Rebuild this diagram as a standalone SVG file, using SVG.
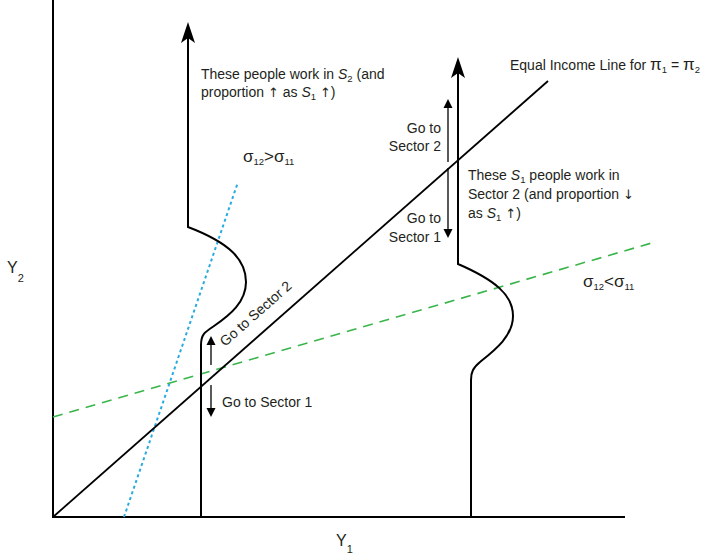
<svg xmlns="http://www.w3.org/2000/svg" width="709" height="555" viewBox="0 0 709 555">
<style>
text{font-family:"Liberation Sans","DejaVu Sans",sans-serif;font-size:14px;fill:#231f20}
.ax{stroke:#000;stroke-width:2;fill:none}
.ln{stroke:#000;stroke-width:1.8;fill:none}
.sa{stroke:#000;stroke-width:1.3;fill:none}
.sub{font-size:9.5px}
.sig{font-size:17px}
.arr{font-family:"DejaVu Sans",sans-serif;font-size:13px}
.blue{stroke:#29abe2;stroke-width:2;stroke-dasharray:3 3;fill:none}
.green{stroke:#39b54a;stroke-width:1.6;stroke-dasharray:10 7;fill:none}
</style>
<defs>
<marker id="big" markerUnits="userSpaceOnUse" viewBox="-24 -9 26 18" markerWidth="26" markerHeight="18" refX="-8" refY="0" orient="auto-start-reverse">
<path d="M0,0 L-21,-7 L-16,0 L-21,7 Z" fill="#000"/>
</marker>
<marker id="sm" markerUnits="userSpaceOnUse" viewBox="-11 -6 12 12" markerWidth="12" markerHeight="12" refX="-6" refY="0" orient="auto-start-reverse">
<path d="M0,0 L-9,-4.5 L-9,4.5 Z" fill="#000"/>
</marker>
</defs>
<g id="axes">
<path class="ax" d="M53,0 V517 H625"/>
<text x="7" y="273" style="font-size:16px">Y<tspan style="font-size:11px" dy="9">2</tspan></text>
<text x="336" y="546" style="font-size:16px">Y<tspan style="font-size:11px" dy="7">1</tspan></text>
</g>
<g id="connectors">
<path class="blue" d="M124,517 L238,182"/>
<path class="green" d="M53,417 L655,242"/>
<path class="ln" d="M53,517 L548,81"/>
<path class="sa" d="M211,342 V365" marker-start="url(#sm)"/>
<path class="sa" d="M211,385 V411" marker-end="url(#sm)"/>
<path class="sa" d="M448,105 V162" marker-start="url(#sm)"/>
<path class="sa" d="M448,168 V232" marker-end="url(#sm)"/>
</g>
<g id="left-curve">
<path class="ax" d="M188,30 V227 C230,243 246,260 246,282 C246,302 230,315 214,326 C205,332 201,334 201,345 V517" marker-start="url(#big)"/>
<text x="201" y="79">These people work in <tspan font-style="italic">S</tspan><tspan class="sub" dy="3">2</tspan><tspan dy="-3"> (and</tspan></text>
<text x="201" y="97">proportion <tspan class="arr">↑</tspan> as <tspan font-style="italic">S</tspan><tspan class="sub" dy="3">1</tspan><tspan dy="-3"> </tspan><tspan class="arr">↑</tspan>)</text>
</g>
<g id="right-curve">
<path class="ax" d="M458,65 V264 C495,280 513,295 513,316 C513,336 495,350 480,362 C473,368 471,372 471,380 V517" marker-start="url(#big)"/>
<text x="468" y="180">These <tspan font-style="italic">S</tspan><tspan class="sub" dy="3">1</tspan><tspan dy="-3"> people work in</tspan></text>
<text x="468" y="199">Sector 2 (and proportion <tspan class="arr">↓</tspan></text>
<text x="468" y="218">as <tspan font-style="italic">S</tspan><tspan class="sub" dy="3">1</tspan><tspan dy="-3"> </tspan><tspan class="arr">↑</tspan>)</text>
</g>
<g id="equal-income-label">
<text x="510" y="70">Equal Income Line for <tspan style="font-size:17px">π</tspan><tspan class="sub" dy="3">1</tspan><tspan dy="-3"> = </tspan><tspan style="font-size:17px">π</tspan><tspan class="sub" dy="3">2</tspan></text>
</g>
<g id="sector-labels">
<text x="441" y="133" text-anchor="end">Go to</text>
<text x="441" y="151" text-anchor="end">Sector 2</text>
<text x="441" y="223" text-anchor="end">Go to</text>
<text x="441" y="242" text-anchor="end">Sector 1</text>
<text x="225" y="347" transform="rotate(-41.4 225 347)">Go to Sector 2</text>
<text x="222" y="407">Go to Sector 1</text>
</g>
<g id="sigma-labels">
<text x="243" y="162"><tspan class="sig">σ</tspan><tspan class="sub" dy="3">12</tspan><tspan class="sig" dy="-3">&gt;σ</tspan><tspan class="sub" dy="3">11</tspan></text>
<text x="583" y="287"><tspan class="sig">σ</tspan><tspan class="sub" dy="3">12</tspan><tspan class="sig" dy="-3">&lt;σ</tspan><tspan class="sub" dy="3">11</tspan></text>
</g>
</svg>
